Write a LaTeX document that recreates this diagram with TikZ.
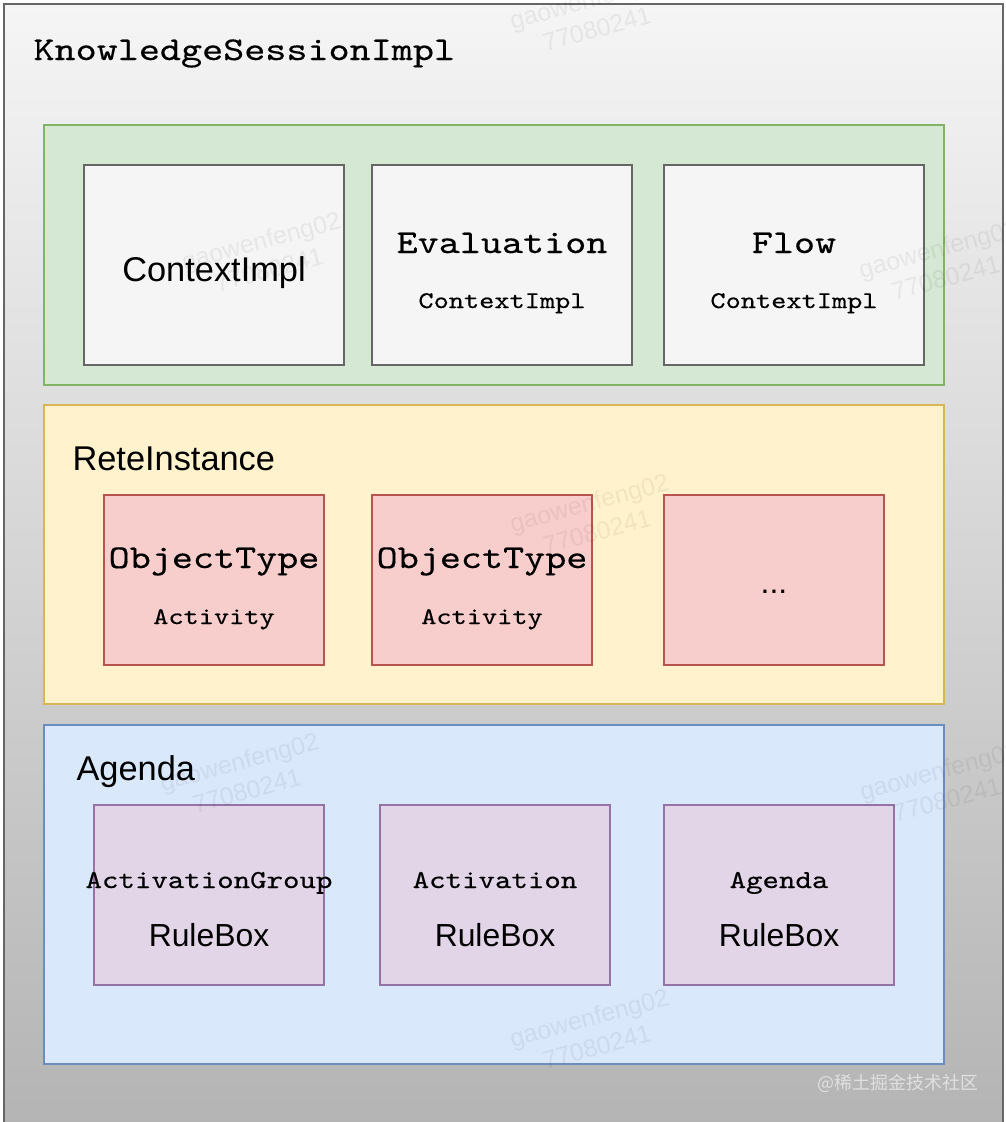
\documentclass[tikz,border=0pt]{standalone}
\usepackage{fontspec}
\setmainfont{Liberation Sans}
\newfontfamily\codefont[FakeStretch=1.21, FakeBold=0.4]{lmmono10-regular.otf}
\newfontfamily\cjkfont{Noto Sans CJK SC}
\usepackage{tikz}
\usetikzlibrary{positioning}
\newcommand{\monoL}{\codefont\fontsize{33.3}{40}\selectfont}
\newcommand{\monoM}{\codefont\fontsize{26}{31}\selectfont}
\newcommand{\monoS}{\codefont\fontsize{24}{29}\selectfont}
\newcommand{\sansL}{\fontsize{34.5}{41}\selectfont}
\newcommand{\sansM}{\fontsize{32}{38}\selectfont}
\definecolor{frame}{RGB}{102,102,102}
\definecolor{topgray}{RGB}{245,245,245}
\definecolor{botgray}{RGB}{179,179,179}
\definecolor{ctxfill}{RGB}{213,232,212}
\definecolor{ctxline}{RGB}{130,179,102}
\definecolor{retefill}{RGB}{255,242,204}
\definecolor{reteline}{RGB}{214,182,86}
\definecolor{otnfill}{RGB}{248,206,204}
\definecolor{otnline}{RGB}{184,84,80}
\definecolor{agfill}{RGB}{218,232,252}
\definecolor{agline}{RGB}{108,142,191}
\definecolor{rbfill}{RGB}{225,213,231}
\definecolor{rbline}{RGB}{150,115,166}

\begin{document}
\begin{tikzpicture}[x=1bp, y=-1bp,
  box/.style={draw, line width=1.3bp, inner sep=0pt, outer sep=0pt, anchor=north west},
  wmark/.style={font=\fontsize{25}{30}\selectfont, align=center, text=black, fill opacity=0.06, text opacity=0.06, rotate=15}]
  \useasboundingbox (0,0) rectangle (1006,1122);
  % session frame, shaded top to bottom
  \node[box, draw=frame, line width=2bp, top color=topgray, bottom color=botgray,
        minimum width=999bp, minimum height=1140bp] (session) at (4,4) {};

  % contexts
  \node[box, draw=ctxline, fill=ctxfill, minimum width=900bp, minimum height=260bp] (ctxgroup) at (44,125) {};
  \foreach \n/\x in {ctx/84, eval/372, flow/664}
    \node[box, draw=frame, fill=topgray, minimum width=260bp, minimum height=200bp] (\n) at (\x,165) {};

  % rete
  \node[box, draw=reteline, fill=retefill, minimum width=900bp, minimum height=299bp] (rete) at (44,405) {};
  \foreach \n/\x in {otn1/104, otn2/372, otn3/664}
    \node[box, draw=otnline, fill=otnfill, minimum width=220bp, minimum height=170bp] (\n) at (\x,495) {};

  % agenda
  \node[box, draw=agline, fill=agfill, minimum width=900bp, minimum height=339bp] (agenda) at (44,725) {};
  \foreach \n/\x/\w in {rb1/94/230, rb2/380/230, rb3/664/230}
    \node[box, draw=rbline, fill=rbfill, minimum width=\w bp, minimum height=180bp] (\n) at (\x,805) {};

  % watermarks
  \foreach \x/\y [count=\i] in {593/14, 265/255, 942/263, 593/517, 243/776, 943/785, 593/1032}
    \node[wmark] (wm\i) at (\x,\y) {gaowenfeng02\\77080241};
  \node[font=\cjkfont\fontsize{18}{20}\selectfont, text=white!88!black] (site) at (898,1083) {@稀土掘金技术社区};

  % labels
  \node[anchor=base west, font=\monoL] (sessiontitle) at (30,60) {KnowledgeSessionImpl};
  \node[anchor=base, font=\sansL] (ctx-name) at (214,281) {ContextImpl};
  \foreach \n/\x/\t in {eval/502/Evaluation, flow/794/Flow}{
    \node[anchor=base, font=\monoL] (\n-name) at (\x,253) {\t};
    \node[anchor=base, font=\monoS] (\n-sub) at (\x,308) {ContextImpl};
  }
  \node[anchor=base west, font=\sansL] (rete-name) at (69,470) {ReteInstance};
  \foreach \n/\x in {otn1/214, otn2/482}{
    \node[anchor=base, font=\monoL] (\n-name) at (\x,568) {ObjectType};
    \node[anchor=base, font=\monoS] (\n-sub) at (\x,624) {Activity};
  }
  \node[anchor=base, font=\sansM] (otn3-name) at (774,593) {...};
  \node[anchor=base west, font=\sansL] (agenda-name) at (73,780) {Agenda};
  \foreach \n/\x/\t in {rb1/209/ActivationGroup, rb2/495/Activation, rb3/779/Agenda}{
    \node[anchor=base, font=\monoM] (\n-name) at (\x,888) {\t};
    \node[anchor=base, font=\sansM] (\n-sub) at (\x,946) {RuleBox};
  }
\end{tikzpicture}
\end{document}
